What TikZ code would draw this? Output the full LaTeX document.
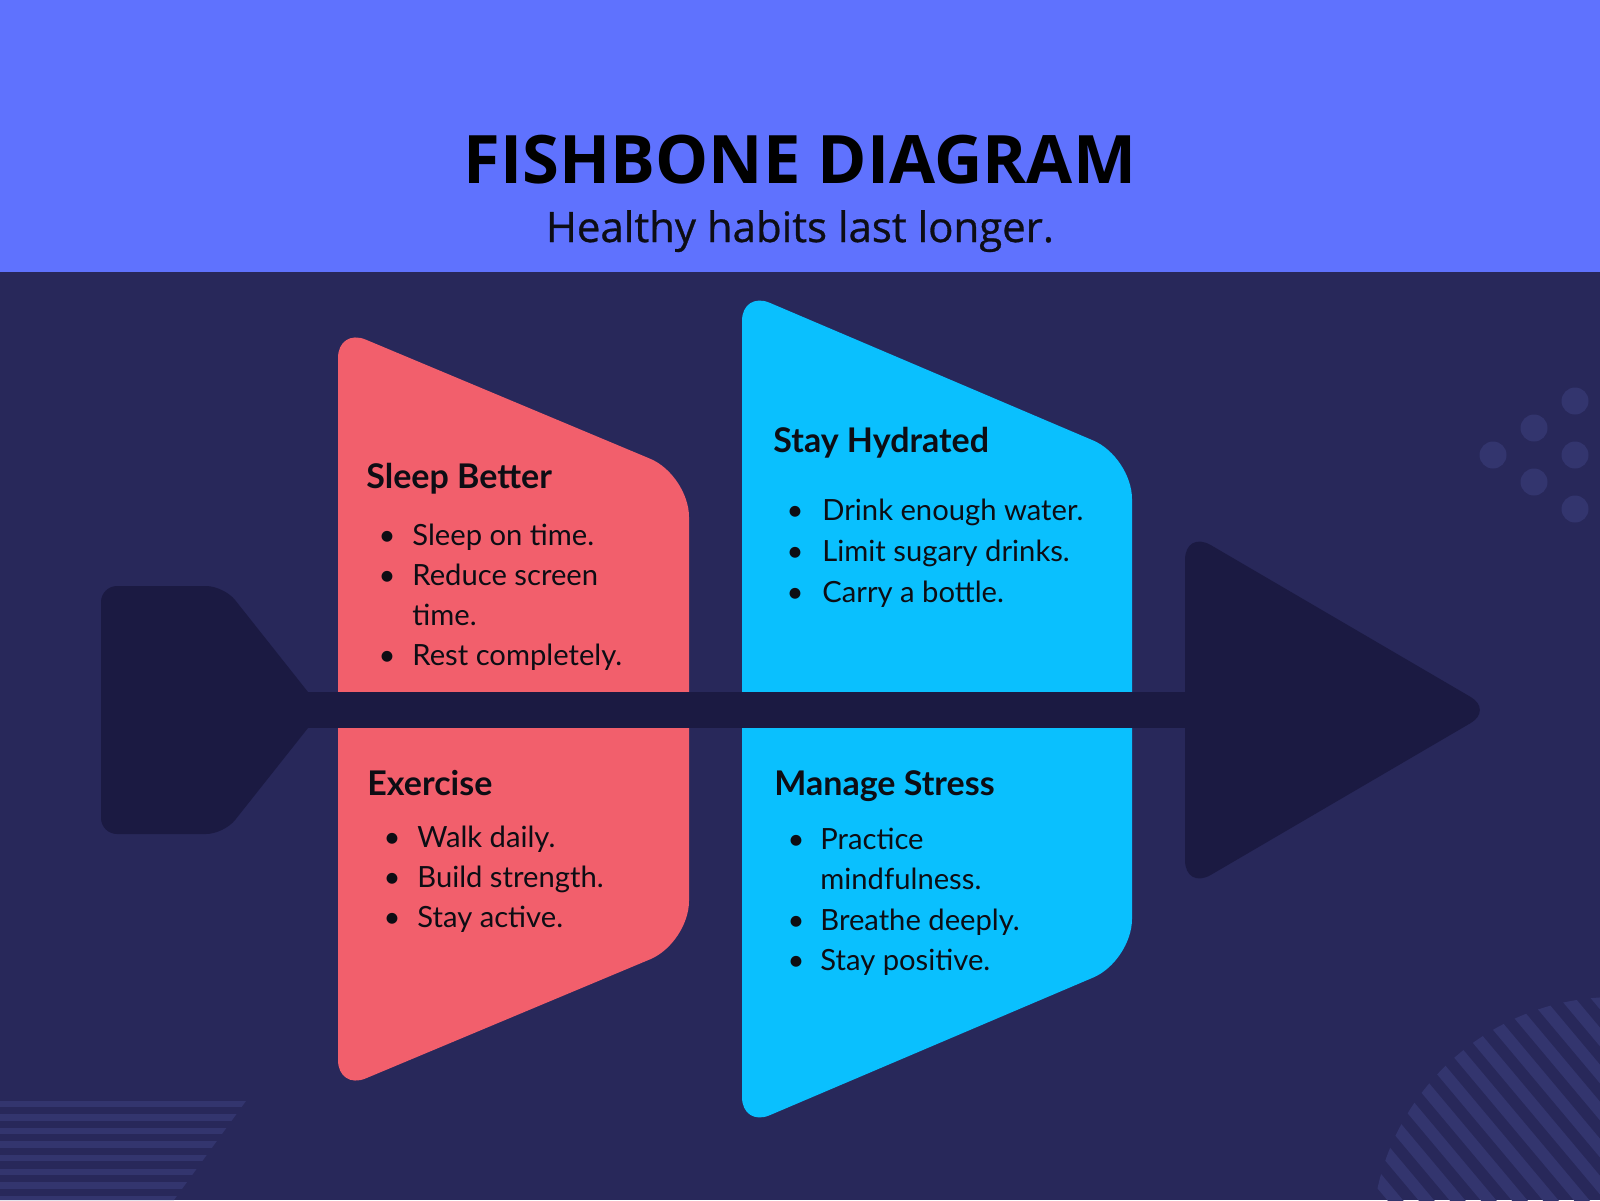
\documentclass[tikz,border=0pt]{standalone}
\usepackage{fontspec}
\setmainfont{Lato}
\newfontfamily\titlefont{Open Sans}
\newfontfamily\subfont[FakeBold=0.7]{Open Sans}
\usetikzlibrary{calc}
\definecolor{topc}{HTML}{5F72FE}
\definecolor{bgc}{HTML}{28285A}
\definecolor{darkc}{HTML}{1B1A42}
\definecolor{decoc}{HTML}{33356E}
\definecolor{redc}{HTML}{F25F6C}
\definecolor{bluec}{HTML}{0AC0FE}
\definecolor{txt}{HTML}{0D0D14}
\begin{document}
\begin{tikzpicture}[x=0.5pt,y=-0.5pt,
  headtxt/.style={font=\fontsize{17pt}{20pt}\selectfont\bfseries, anchor=base west, inner sep=0pt, text=txt},
  itemtxt/.style={font=\fontsize{14.6pt}{17pt}\selectfont, anchor=base west, inner sep=0pt, text=txt},
  bul/.style={font=\fontsize{14.6pt}{17pt}\selectfont, anchor=base, inner sep=0pt, text=txt}]
\useasboundingbox (0,0) rectangle (1600,1200);
\fill[bgc] (0,0) rectangle (1600,1200);
\fill[topc] (0,0) rectangle (1600,272);
\node[inner sep=0pt, anchor=base, text=black] (title) at (800,183) {\resizebox{336pt}{!}{\titlefont\bfseries FISHBONE DIAGRAM}};
\node[inner sep=0pt, anchor=base, text=txt] (sub) at (800,242) {\resizebox{254pt}{!}{\subfont Healthy habits last longer.}};
% decorations
\foreach \p in {(1575,401),(1534,428),(1493,455),(1575,455),(1534,482),(1575,509)}
  \fill[decoc] \p circle (6.75pt);
\begin{scope}
  \clip (0,1090) -- (254,1090) -- (174,1200) -- (0,1200) -- cycle;
  \foreach \i in {0,...,7}
    \fill[decoc] (0,{1100.5+13.6*\i}) rectangle (300,{1107+13.6*\i});
\end{scope}
\begin{scope}
  \clip (1615,1240) circle (121.5pt);
  \begin{scope}[shift={(1615,1240)}, rotate=-50]
    \foreach \k in {-14,...,14}
      \draw[decoc, line width=6pt] (-320,{\k*23.8}) -- (320,{\k*23.8});
  \end{scope}
\end{scope}
% red shape
\coordinate (r1) at (338,328);
\coordinate (r2) at (689,475);
\coordinate (r3) at (689,943);
\coordinate (r4) at (338,1090);
\fill[redc] ($(r1)!15pt!(r4)$) .. controls ($(r1)!6.75pt!(r4)$) and ($(r1)!6.75pt!(r2)$) .. ($(r1)!15pt!(r2)$)
  -- ($(r2)!21pt!(r1)$) .. controls ($(r2)!9.45pt!(r1)$) and ($(r2)!9.45pt!(r3)$) .. ($(r2)!21pt!(r3)$)
  -- ($(r3)!21pt!(r2)$) .. controls ($(r3)!9.45pt!(r2)$) and ($(r3)!9.45pt!(r4)$) .. ($(r3)!21pt!(r4)$)
  -- ($(r4)!15pt!(r3)$) .. controls ($(r4)!6.75pt!(r3)$) and ($(r4)!6.75pt!(r1)$) .. ($(r4)!15pt!(r1)$) -- cycle;
% blue shape
\coordinate (b1) at (742,291);
\coordinate (b2) at (1132,457);
\coordinate (b3) at (1132,961);
\coordinate (b4) at (742,1127);
\fill[bluec] ($(b1)!15pt!(b4)$) .. controls ($(b1)!6.75pt!(b4)$) and ($(b1)!6.75pt!(b2)$) .. ($(b1)!15pt!(b2)$)
  -- ($(b2)!21pt!(b1)$) .. controls ($(b2)!9.45pt!(b1)$) and ($(b2)!9.45pt!(b3)$) .. ($(b2)!21pt!(b3)$)
  -- ($(b3)!21pt!(b2)$) .. controls ($(b3)!9.45pt!(b2)$) and ($(b3)!9.45pt!(b4)$) .. ($(b3)!21pt!(b4)$)
  -- ($(b4)!15pt!(b3)$) .. controls ($(b4)!6.75pt!(b3)$) and ($(b4)!6.75pt!(b1)$) .. ($(b4)!15pt!(b1)$) -- cycle;
% spine, tail, head
\fill[darkc] (300,692) rectangle (1195,728);
\coordinate (t1) at (101,586);
\coordinate (t2) at (224,586);
\coordinate (t3) at (308,692);
\coordinate (t4) at (308,728);
\coordinate (t5) at (224,834);
\coordinate (t6) at (101,834);
\fill[darkc] ($(t1)!8pt!(t6)$) .. controls ($(t1)!3.6pt!(t6)$) and ($(t1)!3.6pt!(t2)$) .. ($(t1)!8pt!(t2)$)
  -- ($(t2)!9pt!(t1)$) .. controls ($(t2)!4pt!(t1)$) and ($(t2)!4pt!(t3)$) .. ($(t2)!9pt!(t3)$)
  -- (t3) -- (t4)
  -- ($(t5)!9pt!(t4)$) .. controls ($(t5)!4pt!(t4)$) and ($(t5)!4pt!(t6)$) .. ($(t5)!9pt!(t6)$)
  -- ($(t6)!8pt!(t5)$) .. controls ($(t6)!3.6pt!(t5)$) and ($(t6)!3.6pt!(t1)$) .. ($(t6)!8pt!(t1)$) -- cycle;
\coordinate (h1) at (1185,530);
\coordinate (h2) at (1493,710);
\coordinate (h3) at (1185,890);
\fill[darkc] ($(h1)!15pt!(h3)$) .. controls ($(h1)!6.75pt!(h3)$) and ($(h1)!6.75pt!(h2)$) .. ($(h1)!15pt!(h2)$)
  -- ($(h2)!13pt!(h1)$) .. controls ($(h2)!5.85pt!(h1)$) and ($(h2)!5.85pt!(h3)$) .. ($(h2)!13pt!(h3)$)
  -- ($(h3)!15pt!(h2)$) .. controls ($(h3)!6.75pt!(h2)$) and ($(h3)!6.75pt!(h1)$) .. ($(h3)!15pt!(h1)$) -- cycle;
% texts: Sleep Better
\node[headtxt] (sb) at (366,488) {Sleep Better};
\node[bul] (sb1b) at (387,545) {\textbullet};
\node[itemtxt] (sb1) at (412,545) {Sleep on time.};
\node[bul] (sb2b) at (387,585) {\textbullet};
\node[itemtxt] (sb2) at (412,585) {Reduce screen};
\node[itemtxt] (sb2c) at (412,625) {time.};
\node[bul] (sb3b) at (387,665) {\textbullet};
\node[itemtxt] (sb3) at (412,665) {Rest completely.};
% Exercise
\node[headtxt] (ex) at (367,795) {Exercise};
\node[bul] (ex1b) at (392,847) {\textbullet};
\node[itemtxt] (ex1) at (417,847) {Walk daily.};
\node[bul] (ex2b) at (392,887) {\textbullet};
\node[itemtxt] (ex2) at (417,887) {Build strength.};
\node[bul] (ex3b) at (392,927) {\textbullet};
\node[itemtxt] (ex3) at (417,927) {Stay active.};
% Stay Hydrated
\node[headtxt] (sh) at (773,452) {Stay Hydrated};
\node[bul] (sh1b) at (795,520) {\textbullet};
\node[itemtxt] (sh1) at (822,520) {Drink enough water.};
\node[bul] (sh2b) at (795,561) {\textbullet};
\node[itemtxt] (sh2) at (822,561) {Limit sugary drinks.};
\node[bul] (sh3b) at (795,602) {\textbullet};
\node[itemtxt] (sh3) at (822,602) {Carry a bottle.};
% Manage Stress
\node[headtxt] (ms) at (774,795) {Manage Stress};
\node[bul] (ms1b) at (796,849) {\textbullet};
\node[itemtxt] (ms1) at (820,849) {Practice};
\node[itemtxt] (ms1c) at (820,889) {mindfulness.};
\node[bul] (ms2b) at (796,930) {\textbullet};
\node[itemtxt] (ms2) at (820,930) {Breathe deeply.};
\node[bul] (ms3b) at (796,970) {\textbullet};
\node[itemtxt] (ms3) at (820,970) {Stay positive.};
\end{tikzpicture}
\end{document}
